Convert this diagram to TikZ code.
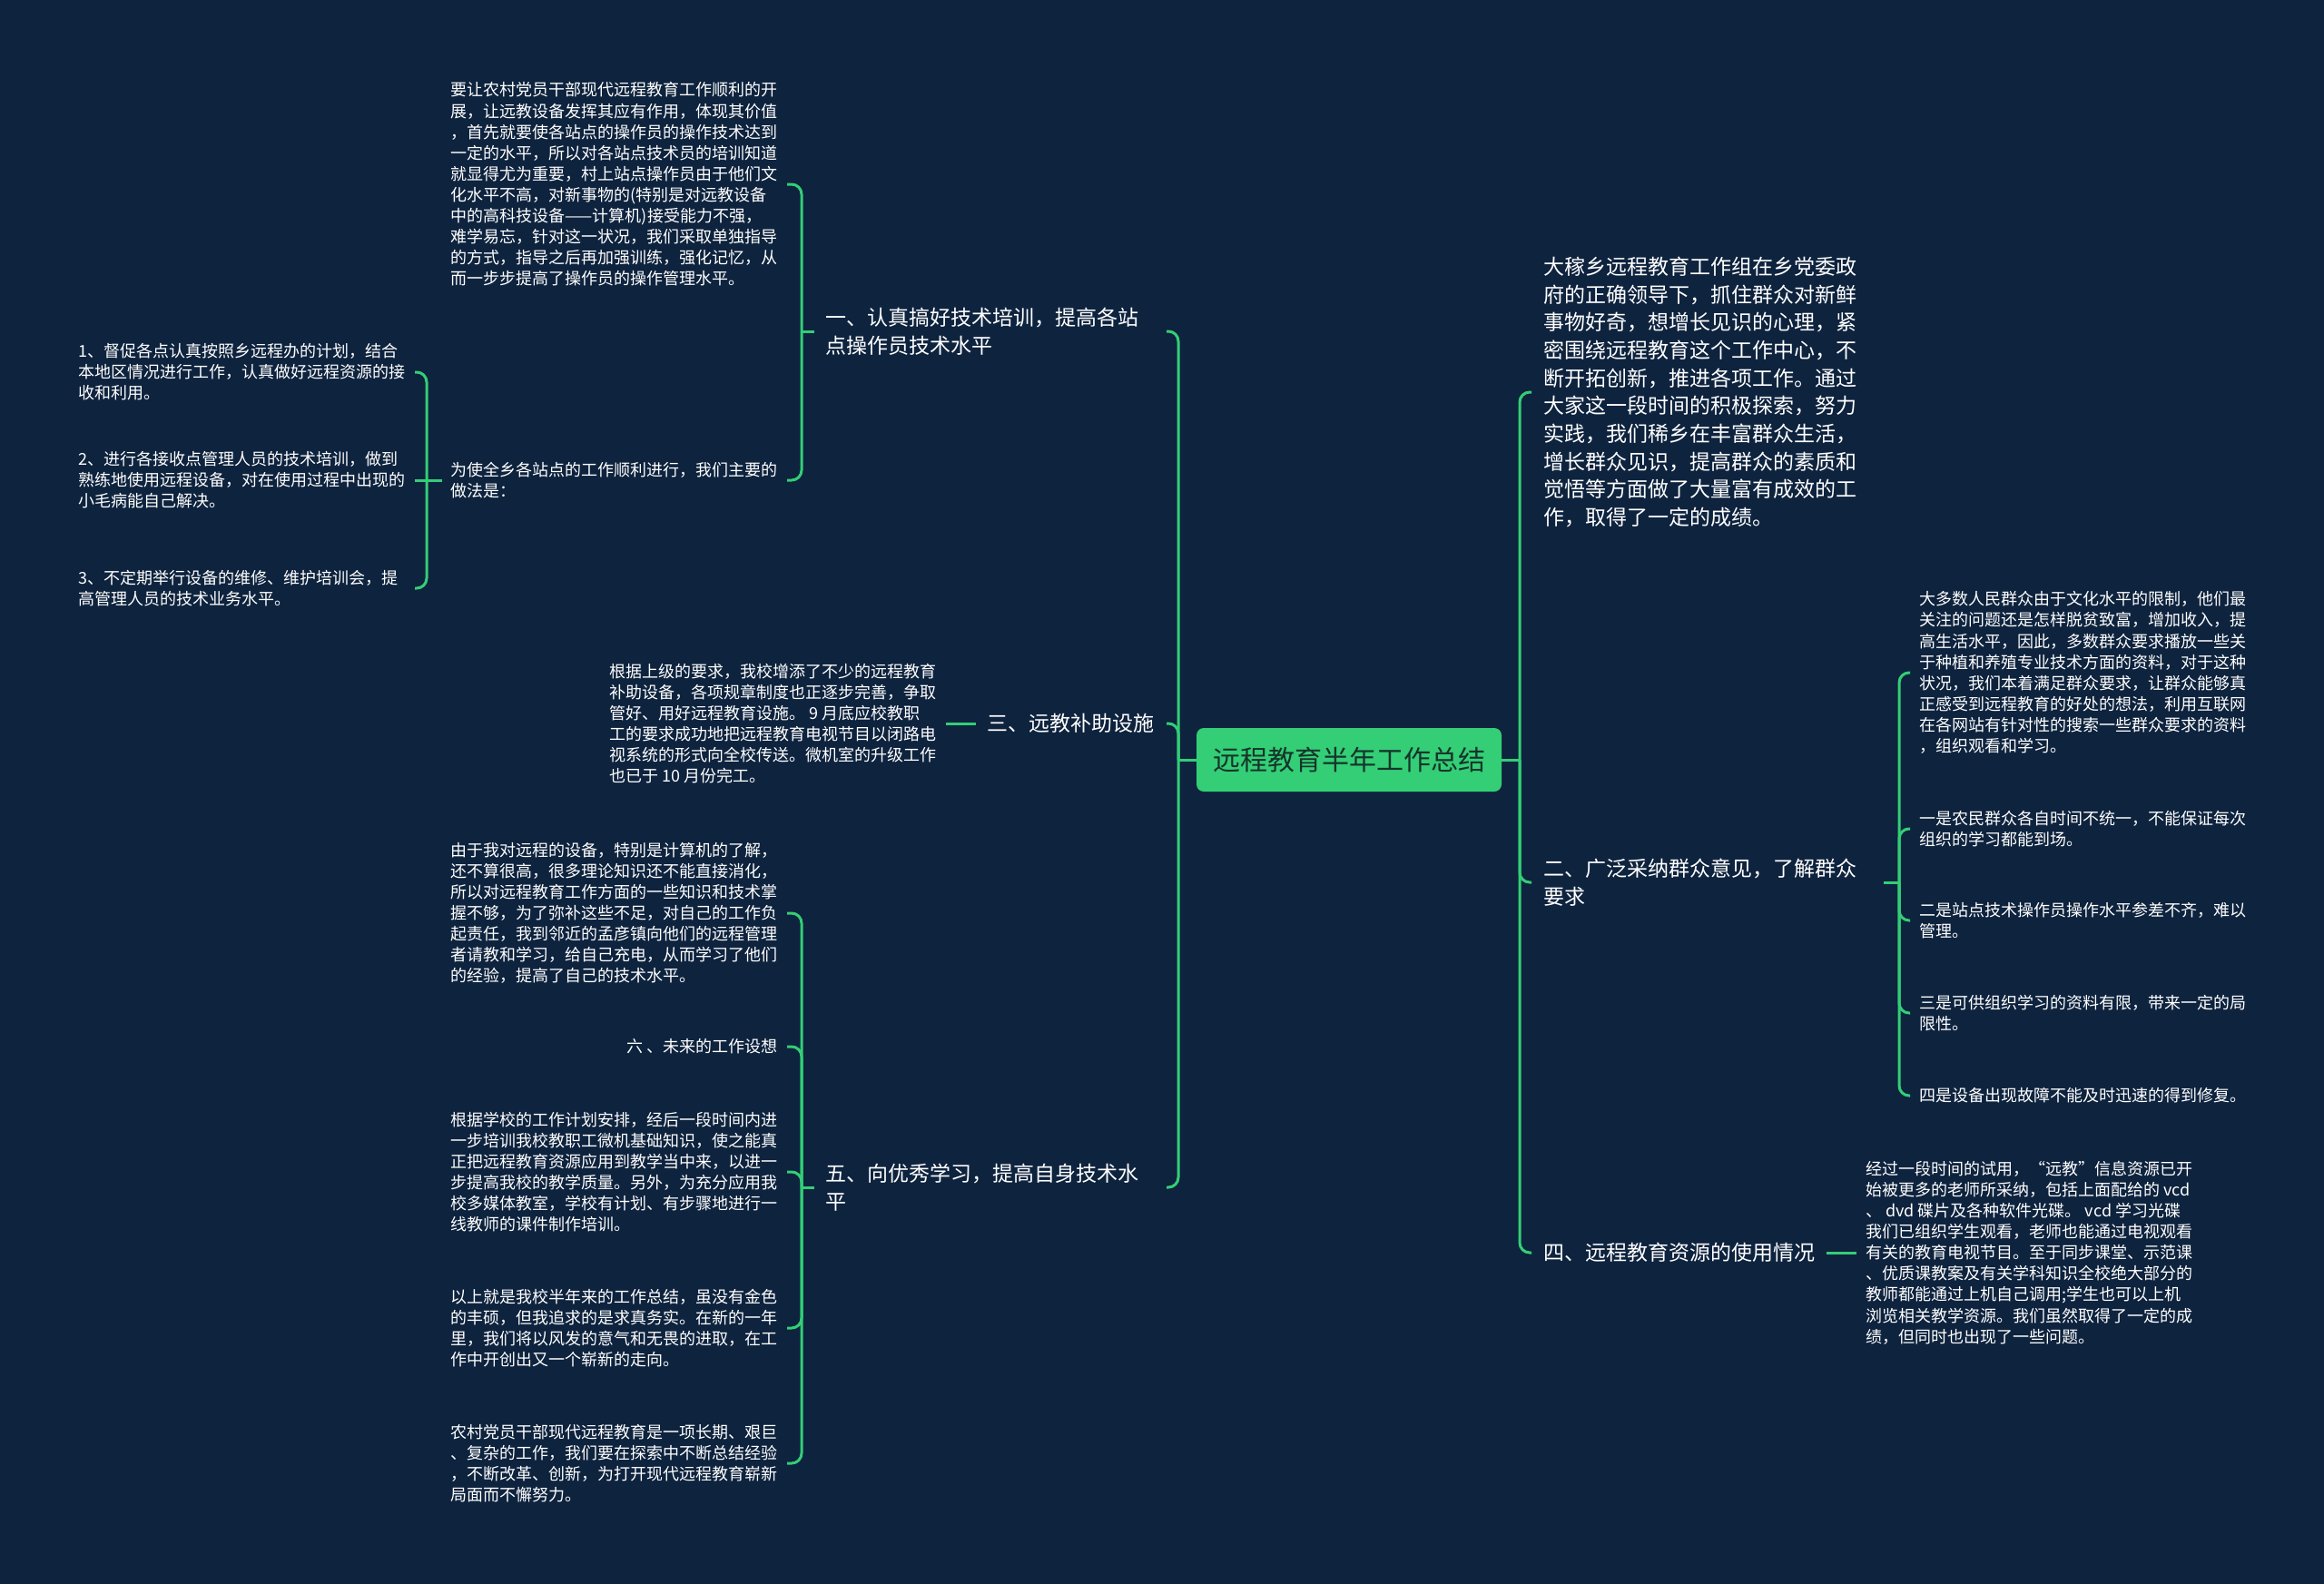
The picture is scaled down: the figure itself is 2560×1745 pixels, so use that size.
\documentclass[tikz,border=0pt]{standalone}
\usepackage{fontspec}
\setmainfont{Noto Sans CJK SC}
\definecolor{bg}{RGB}{14,35,62}
\definecolor{lg}{RGB}{51,206,118}
\definecolor{rt}{RGB}{22,52,42}
\begin{document}
\begin{tikzpicture}[x=1pt,y=-1pt,
  conn/.style={draw=lg,line width=3pt,rounded corners=11pt},
  rootbox/.style={fill=lg,rounded corners=8pt,minimum width=336pt,minimum height=70pt,text=rt,font=\fontsize{30}{36}\selectfont,inner sep=0pt},
  lone/.style={text=white,font=\fontsize{23}{30.7}\selectfont,align=left,inner xsep=13pt,inner ysep=0pt},
  leaf/.style={text=white,font=\fontsize{18}{23.1}\selectfont,align=left,inner xsep=10pt,inner ysep=0pt}]
\fill[bg] (0,0) rectangle (2560,1745);
\useasboundingbox (0,0) rectangle (2560,1745);

\node[rootbox] (root) at (1486,837) {远程教育半年工作总结};
\coordinate (LT) at (1298,837);
\coordinate (RT) at (1674,837);

% left level 1
\node[lone,text width=362pt,anchor=east] (b1) at (1285,365) {一、认真搞好技术培训，提高各站\\点操作员技术水平};
\node[lone,anchor=east] (b3) at (1285,797) {三、远教补助设施};
\node[lone,text width=362pt,anchor=east] (b5) at (1285,1308) {五、向优秀学习，提高自身技术水\\平};

% right level 1
\node[lone,text width=362pt,anchor=west] (r1) at (1687,432) {大稼乡远程教育工作组在乡党委政\\府的正确领导下，抓住群众对新鲜\\事物好奇，想增长见识的心理，紧\\密围绕远程教育这个工作中心，不\\断开拓创新，推进各项工作。通过\\大家这一段时间的积极探索，努力\\实践，我们稀乡在丰富群众生活，\\增长群众见识，提高群众的素质和\\觉悟等方面做了大量富有成效的工\\作，取得了一定的成绩。};
\node[lone,text width=362pt,anchor=west] (r2) at (1687,972) {二、广泛采纳群众意见，了解群众\\要求};
\node[lone,anchor=west] (r4) at (1687,1380) {四、远程教育资源的使用情况};

% leaves of b1
\coordinate (T1) at (883,365);
\node[leaf,anchor=east] (a1) at (867,203) {要让农村党员干部现代远程教育工作顺利的开\\展，让远教设备发挥其应有作用，体现其价值\\，首先就要使各站点的操作员的操作技术达到\\一定的水平，所以对各站点技术员的培训知道\\就显得尤为重要，村上站点操作员由于他们文\\化水平不高，对新事物的(特别是对远教设备\\中的高科技设备——计算机)接受能力不强，\\难学易忘，针对这一状况，我们采取单独指导\\的方式，指导之后再加强训练，强化记忆，从\\而一步步提高了操作员的操作管理水平。};
\node[leaf,anchor=east] (a2) at (867,529) {为使全乡各站点的工作顺利进行，我们主要的\\做法是：};
\coordinate (T2) at (470,529);
\node[leaf,text width=360pt,anchor=east] (a21) at (457,410) {1、督促各点认真按照乡远程办的计划，结合\\本地区情况进行工作，认真做好远程资源的接\\收和利用。};
\node[leaf,text width=360pt,anchor=east] (a22) at (457,529) {2、进行各接收点管理人员的技术培训，做到\\熟练地使用远程设备，对在使用过程中出现的\\小毛病能自己解决。};
\node[leaf,text width=360pt,anchor=east] (a23) at (457,648) {3、不定期举行设备的维修、维护培训会，提\\高管理人员的技术业务水平。};

% leaf of b3
\node[leaf,anchor=east] (c1) at (1042,797) {根据上级的要求，我校增添了不少的远程教育\\补助设备，各项规章制度也正逐步完善，争取\\管好、用好远程教育设施。 9 月底应校教职\\工的要求成功地把远程教育电视节目以闭路电\\视系统的形式向全校传送。微机室的升级工作\\也已于 10 月份完工。};

% leaves of b5
\coordinate (T5) at (883,1308);
\node[leaf,anchor=east] (e1) at (867,1006) {由于我对远程的设备，特别是计算机的了解，\\还不算很高，很多理论知识还不能直接消化，\\所以对远程教育工作方面的一些知识和技术掌\\握不够，为了弥补这些不足，对自己的工作负\\起责任，我到邻近的孟彦镇向他们的远程管理\\者请教和学习，给自己充电，从而学习了他们\\的经验，提高了自己的技术水平。};
\node[leaf,anchor=east] (e2) at (867,1153) {六 、未来的工作设想};
\node[leaf,anchor=east] (e3) at (867,1291) {根据学校的工作计划安排，经后一段时间内进\\一步培训我校教职工微机基础知识，使之能真\\正把远程教育资源应用到教学当中来，以进一\\步提高我校的教学质量。另外，为充分应用我\\校多媒体教室，学校有计划、有步骤地进行一\\线教师的课件制作培训。};
\node[leaf,anchor=east] (e4) at (867,1463) {以上就是我校半年来的工作总结，虽没有金色\\的丰硕，但我追求的是求真务实。在新的一年\\里，我们将以风发的意气和无畏的进取，在工\\作中开创出又一个崭新的走向。};
\node[leaf,anchor=east] (e5) at (867,1612) {农村党员干部现代远程教育是一项长期、艰巨\\、复杂的工作，我们要在探索中不断总结经验\\，不断改革、创新，为打开现代远程教育崭新\\局面而不懈努力。};

% leaves of r2
\coordinate (T6) at (2092,972);
\node[leaf,anchor=west] (f1) at (2104,741) {大多数人民群众由于文化水平的限制，他们最\\关注的问题还是怎样脱贫致富，增加收入，提\\高生活水平，因此，多数群众要求播放一些关\\于种植和养殖专业技术方面的资料，对于这种\\状况，我们本着满足群众要求，让群众能够真\\正感受到远程教育的好处的想法，利用互联网\\在各网站有针对性的搜索一些群众要求的资料\\，组织观看和学习。};
\node[leaf,anchor=west] (f2) at (2104,913) {一是农民群众各自时间不统一，不能保证每次\\组织的学习都能到场。};
\node[leaf,anchor=west] (f3) at (2104,1014) {二是站点技术操作员操作水平参差不齐，难以\\管理。};
\node[leaf,anchor=west] (f4) at (2104,1116) {三是可供组织学习的资料有限，带来一定的局\\限性。};
\node[leaf,anchor=west] (f5) at (2104,1207) {四是设备出现故障不能及时迅速的得到修复。};

% leaf of r4
\node[leaf,anchor=west] (d1) at (2045,1380) {经过一段时间的试用，“远教”信息资源已开\\始被更多的老师所采纳，包括上面配给的 vcd\\、 dvd 碟片及各种软件光碟。 vcd 学习光碟\\我们已组织学生观看，老师也能通过电视观看\\有关的教育电视节目。至于同步课堂、示范课\\、优质课教案及有关学科知识全校绝大部分的\\教师都能通过上机自己调用;学生也可以上机\\浏览相关教学资源。我们虽然取得了一定的成\\绩，但同时也出现了一些问题。};

% connectors
\draw[conn] (root.west) -- (LT);
\draw[conn] (root.east) -- (RT);
\foreach \n in {b1,b3,b5} \draw[conn] (LT) |- (\n.east);
\foreach \n in {r1,r2,r4} \draw[conn] (RT) |- (\n.west);
\draw[conn] (b1.west) -- (T1);
\foreach \n in {a1,a2} \draw[conn] (T1) |- (\n.east);
\draw[conn] (a2.west) -- (T2);
\foreach \n in {a21,a23} \draw[conn] (T2) |- (\n.east);
\draw[conn] (T2) -- (a22.east);
\draw[conn] (b3.west) -- (c1.east);
\draw[conn] (b5.west) -- (T5);
\foreach \n in {e1,e2,e3,e4,e5} \draw[conn] (T5) |- (\n.east);
\draw[conn] (r2.east) -- (T6);
\foreach \n in {f1,f2,f3,f4,f5} \draw[conn] (T6) |- (\n.west);
\draw[conn] (r4.east) -- (d1.west);
\end{tikzpicture}
\end{document}
